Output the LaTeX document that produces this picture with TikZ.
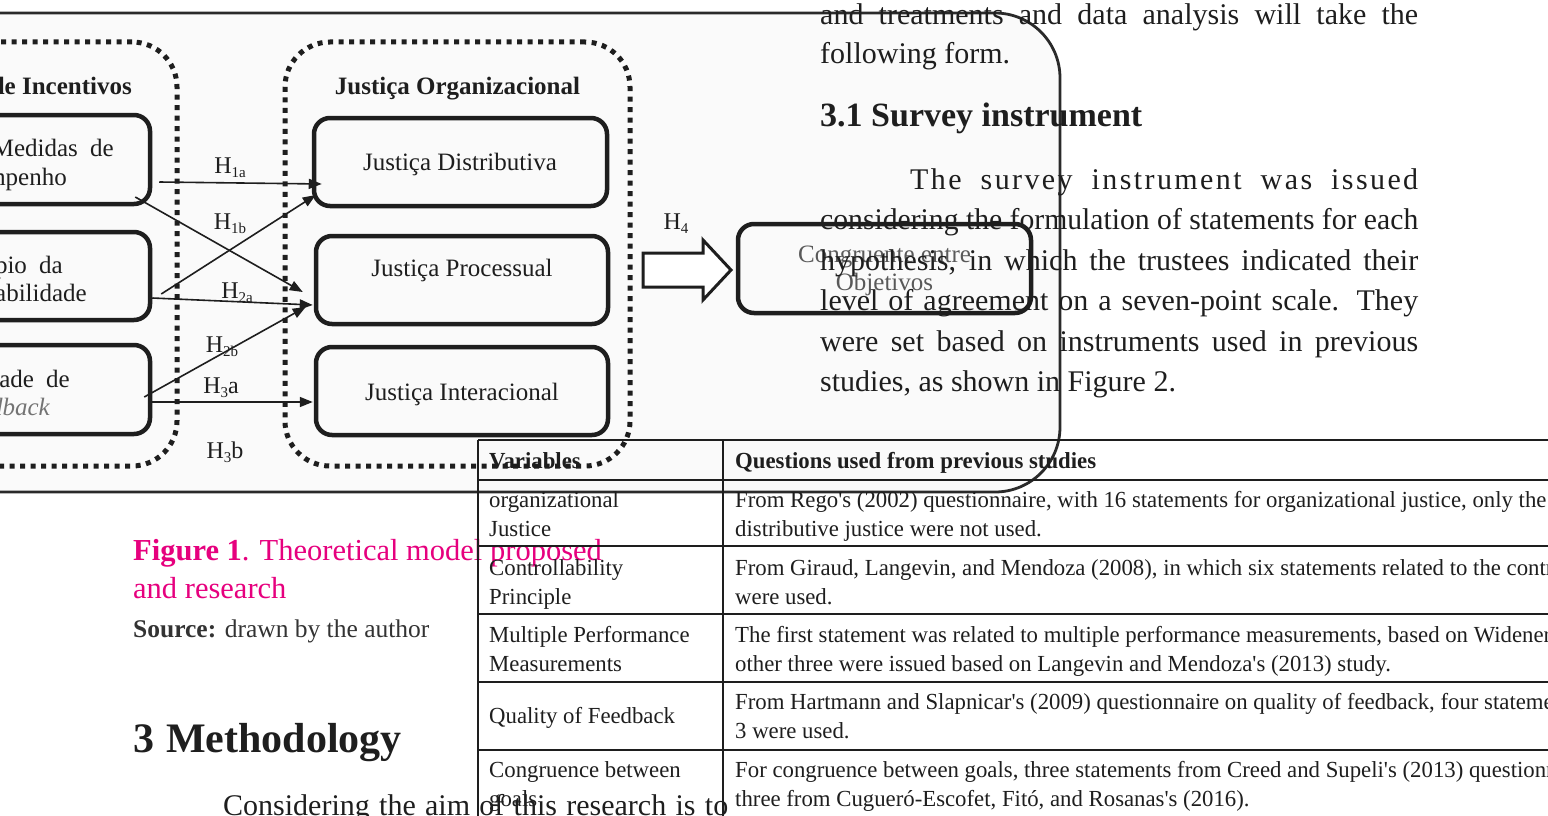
\documentclass[tikz,border=0pt]{standalone}
\usepackage{fontspec}
\usepackage{graphicx}
\setmainfont{Liberation Serif}
\newfontfamily\condf[FakeStretch=0.99]{Liberation Serif}
\usetikzlibrary{arrows.meta,calc}
\definecolor{mag}{HTML}{E6007E}
\definecolor{ink}{HTML}{1E1E1E}
\definecolor{frm}{HTML}{2A2A2A}
\newcommand\fsz[1]{\fontsize{#1}{#1}\selectfont}
\newsavebox\jbox
\newcommand\jline[2]{\sbox\jbox{#2}\ifdim\wd\jbox>#1\relax\resizebox{#1}{\height}{\usebox\jbox}\else\makebox[#1][s]{#2}\fi}
\newcommand\Hs[2]{H\raisebox{-4pt}{\fsz{15}#1}#2}
\begin{document}
\begin{tikzpicture}[x=1pt,y=-1pt,
  box/.style={draw=ink, line width=4.5, rounded corners=16, inner sep=0},
  grp/.style={draw=ink, line width=5, dash pattern=on 5 off 5.5, rounded corners=45, inner sep=0},
  arr/.style={draw=ink, line width=1.6, -{Triangle[length=13,width=10]}},
  dtxt/.style={font=\fsz{25}, text=ink, inner sep=0},
  hlbl/.style={font=\fsz{24}, text=ink, inner sep=0},
  body/.style={font=\fsz{30}, text=ink, inner sep=0, anchor=base west},
  tcell/.style={font=\condf\fsz{23}, text=ink, inner sep=0, anchor=base west},
  tline/.style={draw=ink, line width=1.5}]
\useasboundingbox (0,0) rectangle (1548,816);
\clip (0,0) rectangle (1548,816);
% figure frame
\draw[frm, line width=2.8, fill=black!2, rounded corners=65] (-40,13) -- (1060,13) -- (1060,492) -- (-40,492);
% groups
\node[grp, minimum width=260, minimum height=424] (gL) at (47,254) {};
\node[grp, minimum width=345, minimum height=424] (gR) at (457.5,254) {};
\node[dtxt, font=\bfseries\fsz{25}, anchor=base east] (tL) at (132,95) {de Incentivos};
\node[dtxt, font=\bfseries\fsz{25}, anchor=base] (tR) at (457.5,95) {Justiça Organizacional};
% left boxes
\node[box, minimum width=200, minimum height=89] (M1) at (50,159.5) {};
\node[box, minimum width=200, minimum height=88] (M2) at (50,276) {};
\node[box, minimum width=200, minimum height=89] (M3) at (50,389.5) {};
\node[dtxt, anchor=base east] (m1a) at (114,156) {Medidas\hspace{6pt} de};
\node[dtxt, anchor=base east] (m1b) at (67,185) {Desempenho};
\node[dtxt, anchor=base east] (m2a) at (63,273) {Princípio\hspace{6pt} da};
\node[dtxt, anchor=base east] (m2b) at (87,301) {Controlabilidade};
\node[dtxt, anchor=base east] (m3a) at (70,387) {Qualidade\hspace{6pt} de};
\node[dtxt, anchor=base east, text=black!55, font=\itshape\fsz{25}] (m3b) at (50,415) {feedback};
% right boxes
\node[box, minimum width=293, minimum height=88] (D) at (460.5,162) {};
\node[box, minimum width=292, minimum height=88] (P) at (462,280) {};
\node[box, minimum width=292, minimum height=88] (I) at (462,391) {};
\node[dtxt, anchor=base] (Dt) at (460,170) {Justiça Distributiva};
\node[dtxt, anchor=base] (Pt) at (462,276) {Justiça Processual};
\node[dtxt, anchor=base] (It) at (462,400) {Justiça Interacional};
% arrows
\draw[arr] ($(M1.east)+(7,22.5)$) -- ($(D.west)+(10,22)$);
\draw[arr] ($(M1.east)+(-17,37.5)$) -- ($(P.west)+(-11,12)$);
\draw[arr] ($(M2.east)+(9,18)$) -- ($(D.west)+(4,33)$);
\draw[arr] ($(M2.east)+(0,22)$) -- ($(P.west)+(-1,25)$);
\draw[arr] ($(M3.east)+(-8,7.5)$) -- ($(P.west)+(-8,27)$);
\draw[arr] ($(M3.east)+(-2,12.5)$) -- ($(I.west)+(-1,11)$);
\node[hlbl] (h1a) at (230,168) {\Hs{1a}{}};
\node[hlbl] (h1b) at (230,224) {\Hs{1b}{}};
\node[hlbl] (h2a) at (237,293) {\Hs{2a}{}};
\node[hlbl] (h2b) at (222,347) {\Hs{2b}{}};
\node[hlbl] (h3a) at (221,388) {\Hs{3}{a}};
\node[hlbl] (h3b) at (225,452) {\Hs{3}{b}};
\node[hlbl] (h4) at (676,224) {\Hs{4}{}};
% block arrow
\draw[ink, line width=3, fill=white, line join=miter] (643,253) -- (703,253) -- (703,240) -- (731,270) -- (703,300) -- (703,287) -- (643,287) -- cycle;
% congruence box
\node[box, minimum width=293, minimum height=89, font=\fontsize{25}{28}\selectfont, text=black!65, align=center, text depth=0pt] (C) at (884.5,268.5) {Congruente entre\\Objetivos};
% right column text
\node[body] (r1) at (820,25) {\jline{598pt}{and treatments and data analysis will take the}};
\node[body] (r2) at (820,64) {following form.};
\node[body, font=\bfseries\fsz{34}] (r3) at (820,126) {3.1 Survey instrument};
\node[body] (r4) at (910,189) {\jline{508pt}{\addfontfeature{LetterSpace=8}The survey instrument was issued}};
\node[body] (r5) at (820,229) {\jline{598pt}{considering the formulation of statements for each}};
\node[body] (r6) at (820,270) {\jline{598pt}{hypothesis, in which the trustees indicated their}};
\node[body] (r7) at (820,310) {\jline{598pt}{level of agreement on a seven-point scale. They}};
\node[body] (r8) at (820,351) {\jline{598pt}{were set based on instruments used in previous}};
\node[body] (r9) at (820,391) {studies, as shown in Figure 2.};
% caption and left text
\node[body, text=mag, font=\fsz{30.5}] (cap1) at (133,560) {{\bfseries Figure 1}. Theoretical model proposed};
\node[body, text=mag, font=\fsz{30.5}] (cap2) at (133,598) {and research};
\node[body, font=\fsz{25.5}, text=black!80] (src) at (133,637) {{\bfseries Source:} drawn by the author};
\node[body, font=\bfseries\fsz{42}] (sec) at (133,752) {3\hspace{12pt}Methodology};
\node[body] (par) at (223,815) {\jline{505pt}{Considering the aim of this research is to}};
% table
\draw[tline] (478,440) -- (1560,440);
\draw[tline] (478,480) -- (1560,480);
\draw[tline] (478,546) -- (1560,546);
\draw[tline] (478,614) -- (1560,614);
\draw[tline] (478,682) -- (1560,682);
\draw[tline] (478,750) -- (1560,750);
\draw[tline] (478,440) -- (478,830);
\draw[tline] (723,440) -- (723,830);
\node[tcell, font=\condf\bfseries\fsz{23}] (th1) at (489,468) {Variables};
\node[tcell, font=\condf\bfseries\fsz{23}] (th2) at (735,468) {Questions used from previous studies};
\node[tcell] (a1) at (489,507) {organizational};
\node[tcell] (a2) at (489,536) {Justice};
\node[tcell] (b1) at (735,507) {From Rego's (2002) questionnaire, with 16 statements for organizational justice, only the};
\node[tcell] (b2) at (735,536) {distributive justice were not used.};
\node[tcell] (a3) at (489,575) {Controllability};
\node[tcell] (a4) at (489,604) {Principle};
\node[tcell] (b3) at (735,575) {From Giraud, Langevin, and Mendoza (2008), in which six statements related to the controllability};
\node[tcell] (b4) at (735,604) {were used.};
\node[tcell] (a5) at (489,642) {Multiple Performance};
\node[tcell] (a6) at (489,671) {Measurements};
\node[tcell] (b5) at (735,642) {The first statement was related to multiple performance measurements, based on Widener};
\node[tcell] (b6) at (735,671) {other three were issued based on Langevin and Mendoza's (2013) study.};
\node[tcell] (a7) at (489,723) {Quality of Feedback};
\node[tcell] (b7) at (735,709) {From Hartmann and Slapnicar's (2009) questionnaire on quality of feedback, four statements};
\node[tcell] (b8) at (735,738) {3 were used.};
\node[tcell] (a8) at (489,777) {Congruence between};
\node[tcell] (a9) at (489,806) {goals};
\node[tcell] (b9) at (735,777) {For congruence between goals, three statements from Creed and Supeli's (2013) questionnaire};
\node[tcell] (b10) at (735,806) {three from Cugueró-Escofet, Fitó, and Rosanas's (2016).};
\end{tikzpicture}
\end{document}
